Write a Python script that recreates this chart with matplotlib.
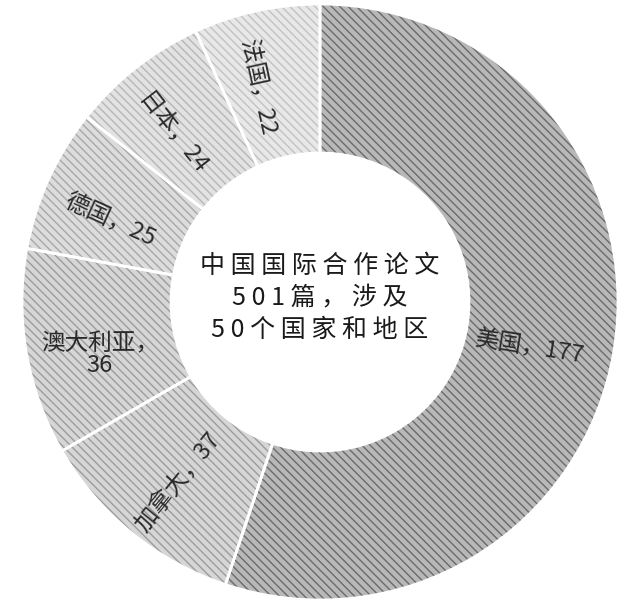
import numpy as np
import matplotlib.pyplot as plt

plt.rcParams['font.family'] = ['Noto Sans CJK SC', 'DejaVu Sans']
plt.rcParams['hatch.linewidth'] = 1.0

countries = ['美国', '加拿大', '澳大利亚', '德国', '日本', '法国']
papers = [177, 37, 36, 25, 24, 22]
center_lines = ['中国国际合作论文', '501篇，涉及', '50个国家和地区']

face_colors = ['#b8b8b8', '#d6d6d6', '#d6d6d6', '#dcdcdc', '#e2e2e2', '#e8e8e8']
hatch_colors = ['#6a6a6a', '#9c9c9c', '#9c9c9c', '#a8a8a8', '#b6b6b6', '#c2c2c2']
# label placement tweaks (degrees, radius)
label_shift = [-3, 1, 3.7, 3, 3.5, 4]
label_radius = [0.72, 0.77, 0.76, 0.755, 0.75, 0.75]

R = 298.0
fig = plt.figure(figsize=(6.4, 6.05), dpi=100)
ax = fig.add_axes((0, 0, 1, 1))

# hatched fill first, white separators on top
wedges, _ = ax.pie(papers, startangle=90, counterclock=False, radius=1,
                   wedgeprops=dict(width=0.5, linewidth=0))
for w, fc, hc in zip(wedges, face_colors, hatch_colors):
    w.set_facecolor(fc)
    w.set_edgecolor(hc)
    w.set_hatch('\\\\\\\\')

ax.pie(papers, startangle=90, counterclock=False, radius=1,
       wedgeprops=dict(width=0.5, linewidth=2, edgecolor='white', fill=False))

ax.set_xlim(-320 / R, 320 / R)
ax.set_ylim(-303 / R, 302 / R)
ax.set_aspect('equal')
ax.axis('off')

for w, name, val, da, r in zip(wedges, countries, papers, label_shift, label_radius):
    mid = (w.theta1 + w.theta2) / 2
    rad = np.deg2rad(mid + da)
    x, y = r * np.cos(rad), r * np.sin(rad)
    rot = (mid + 90) % 180 - 90
    if name == '澳大利亚':
        txt = f'{name}，\n{val}'
        rot = 0
    else:
        txt = f'{name}，{val}'
    ax.text(x, y, txt, rotation=rot, rotation_mode='anchor',
            ha='center', va='center', fontsize=17, color='#2a2a2a',
            linespacing=0.95, fontweight='medium')

spaced = [' '.join(line) for line in center_lines]
ax.text(0, 0.013, '\n'.join(spaced), ha='center', va='center',
        fontsize=18, color='#1a1a1a', linespacing=1.3, fontweight='medium')

fig.savefig('out.png', dpi=100, facecolor='white')
